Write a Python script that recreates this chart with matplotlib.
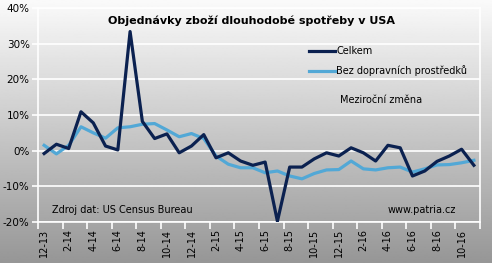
import numpy as np
import matplotlib
matplotlib.use('Agg')
import matplotlib.pyplot as plt
from matplotlib.ticker import FixedLocator, FuncFormatter

# months 12-13 .. 11-16
months = ['12-13'] + ['%d-%d' % (m, y) for y in (14, 15, 16) for m in range(1, 13)][:35]

celkem = [-0.8, 1.8, 0.6, 10.9, 7.8, 1.3, 0.2, 33.4, 8.2, 3.4, 4.7, -0.6, 1.3, 4.5,
          -2.0, -0.6, -2.9, -4.1, -3.2, -19.8, -4.6, -4.6, -2.3, -0.6, -1.5, 0.8,
          -0.6, -2.9, 1.5, 0.8, -7.1, -5.7, -3.0, -1.5, 0.4, -4.1]
bez_doprav = [1.5, -0.9, 1.5, 6.7, 5.0, 3.5, 6.4, 6.7, 7.4, 7.6, 5.8, 3.9, 4.8, 3.4,
              -1.5, -3.8, -4.8, -4.8, -6.2, -5.7, -7.1, -7.9, -6.4, -5.4, -5.3, -2.9,
              -5.1, -5.4, -4.8, -4.6, -6.0, -5.1, -4.0, -3.9, -3.4, -2.7]
yticks = [-20, -10, 0, 10, 20, 30, 40]

W, H = 492, 263
fig = plt.figure(figsize=(W / 100, H / 100), dpi=100)

# background gradient
bg = fig.add_axes([0, 0, 1, 1], zorder=0)
grad = np.linspace(0.98, 0.59, 256).reshape(-1, 1)
bg.imshow(grad, cmap='gray', vmin=0, vmax=1, aspect='auto', extent=[0, 1, 0, 1])
bg.axis('off')

ax = fig.add_axes([38 / W, 1 - 222 / H, (480 - 38) / W, (222 - 8) / H], zorder=1)
ax.patch.set_alpha(0)
x = np.arange(len(months))
ax.plot(x, celkem, color='#0b2150', lw=2.3, label='Celkem', zorder=4)
ax.plot(x, bez_doprav, color='#52a8d6', lw=2.3, label='Bez dopravních prostředků', zorder=3)

ax.set_xlim(-0.5, len(months) - 0.5)
ax.set_ylim(-20, 40)
ax.set_yticks(yticks)
ax.yaxis.set_major_formatter(FuncFormatter(lambda v, p: '%d%%' % v))
ax.grid(axis='y', color='white', lw=1.2)
ax.set_axisbelow(True)

ax.xaxis.set_major_locator(FixedLocator(x[::2]))
ax.set_xticklabels(months[::2], rotation=90, fontsize=7)
ax.xaxis.set_minor_locator(FixedLocator(np.arange(-0.5, len(months), 2)))
ax.tick_params(axis='x', which='major', length=0, pad=5)
ax.tick_params(axis='x', which='minor', length=5, color='white', width=1.2)
ax.tick_params(axis='y', length=4, color='white', width=1.2, labelsize=7.5, pad=2)
for s in ax.spines.values():
    s.set_color('white')
    s.set_linewidth(1.2)

fig.text(251 / W, 1 - 21 / H, 'Objednávky zboží dlouhodobé spotřeby v USA',
         ha='center', va='center', fontsize=8, fontweight='bold')
leg = ax.legend(loc='upper left', bbox_to_anchor=(309 / W, 1 - 46 / H),
                bbox_transform=fig.transFigure, frameon=False, fontsize=7,
                handlelength=2.7, handletextpad=0.1, labelspacing=0.95,
                borderpad=0, borderaxespad=0)
fig.text(340 / W, 1 - 100 / H, 'Meziroční změna', ha='left', va='center', fontsize=7)
fig.text(52 / W, 1 - 210 / H, 'Zdroj dat: US Census Bureau', ha='left', va='center', fontsize=7)
fig.text(456 / W, 1 - 210 / H, 'www.patria.cz', ha='right', va='center', fontsize=7)

fig.savefig('out.png', dpi=100)
